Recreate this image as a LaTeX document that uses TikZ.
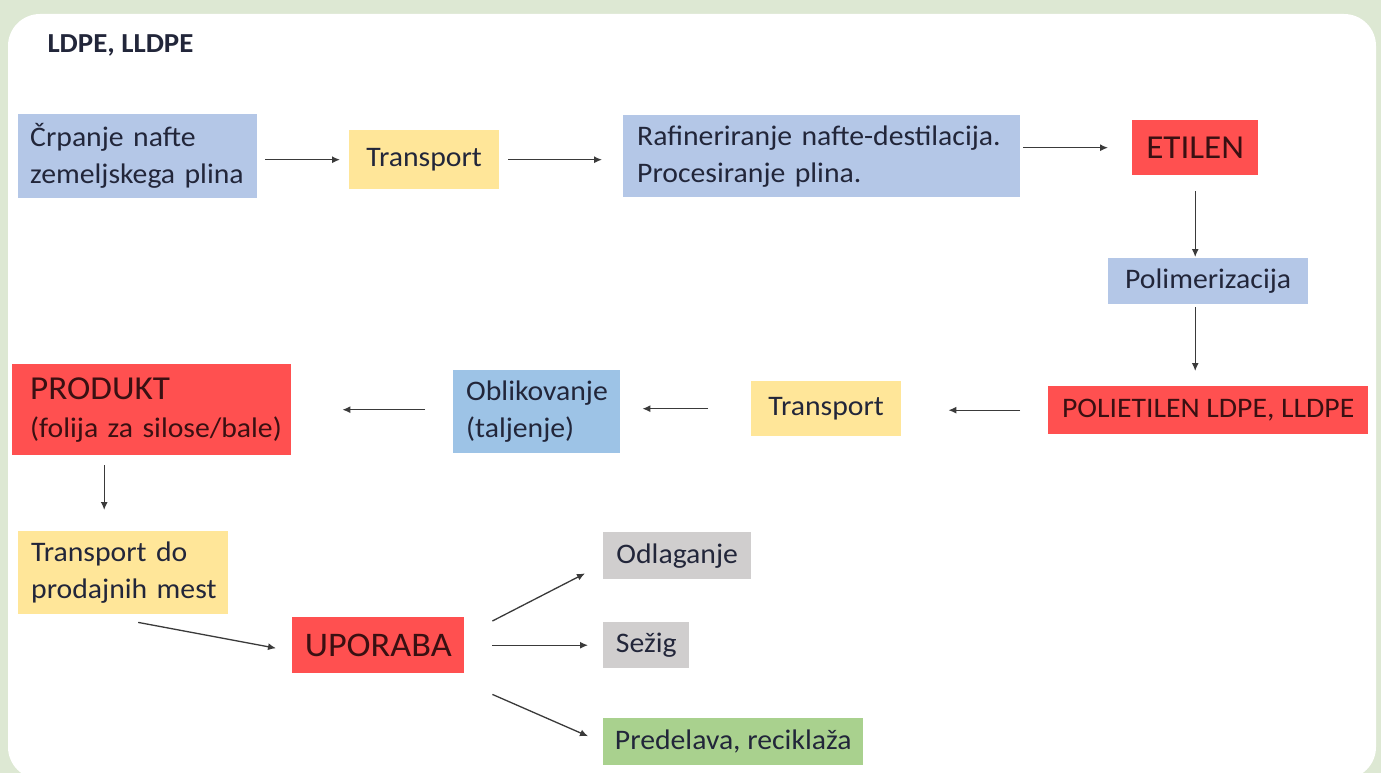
\documentclass[tikz,border=0pt]{standalone}
\usepackage{fontspec}
\setmainfont{Carlito}[FakeStretch=1.05]
\usetikzlibrary{arrows.meta}
\definecolor{bggreen}{HTML}{DDE8D3}
\definecolor{bxblue}{HTML}{B4C7E7}
\definecolor{bxblue2}{HTML}{9DC3E6}
\definecolor{bxyellow}{HTML}{FFE699}
\definecolor{bxred}{HTML}{FF5050}
\definecolor{bxgray}{HTML}{D0CECE}
\definecolor{bxgreen}{HTML}{A9D18E}
\definecolor{txdark}{HTML}{22263A}
\definecolor{txred}{HTML}{3A1012}
\definecolor{arrcol}{HTML}{3A3A3A}
\newcommand{\nsz}{\fontsize{28.3}{37}\selectfont}
\newcommand{\bsz}{\fontsize{33.5}{40}\selectfont}
\tikzset{
  box/.style={anchor=north west, inner ysep=0pt, inner xsep=0pt, text=txdark, font=\nsz},
  lbox/.style={box, align=left},
  cbox/.style={box, align=center},
  redbox/.style={fill=bxred, text=txred},
  arr/.style={draw=arrcol, line width=1.3pt, -{Latex[length=8pt,width=7pt]}}
}
\begin{document}
\begin{tikzpicture}[x=1pt,y=1pt]
\useasboundingbox (0,0) rectangle (1381,-773);
\fill[bggreen] (0,0) rectangle (1381,-773);
\fill[white, rounded corners=32pt] (8,-14) rectangle (1376,-779);

\node[anchor=west, font=\fontsize{27.5}{30}\selectfont\bfseries, text=txdark] (title) at (44,-45) {LDPE, LLDPE};

\node[lbox, fill=bxblue, minimum height=84pt, inner xsep=12pt, text width=215pt] (crp) at (18,-114) {\mbox{Črpanje nafte}\\\mbox{zemeljskega plina}};
\node[cbox, fill=bxyellow, minimum width=150pt, minimum height=59pt] (tr1) at (349,-130) {Transport};
\node[lbox, fill=bxblue, minimum height=82pt, inner xsep=14pt, text width=369pt] (raf) at (623,-115) {\mbox{Rafineriranje nafte-destilacija.}\\\mbox{Procesiranje plina.}};
\node[cbox, redbox, font=\bsz, minimum width=126pt, minimum height=55pt] (eti) at (1132,-120) {ETILEN};
\node[cbox, fill=bxblue, minimum width=200pt, minimum height=46pt] (poly) at (1108,-258) {Polimerizacija};
\node[cbox, redbox, minimum width=320pt, minimum height=48pt] (poli) at (1048,-386) {POLIETILEN LDPE, LLDPE};
\node[cbox, fill=bxyellow, minimum width=150pt, minimum height=55pt] (tr2) at (751,-381) {Transport};
\node[lbox, fill=bxblue2, minimum height=83pt, inner xsep=13pt, text width=141pt] (obl) at (453,-370) {\mbox{Oblikovanje}\\\mbox{(taljenje)}};
\node[lbox, redbox, minimum height=91pt, inner xsep=18pt, text width=243pt] (prod) at (12,-364) {\mbox{\bsz PRODUKT}\\[1pt]\mbox{\nsz (folija za silose/bale)}};
\node[lbox, fill=bxyellow, minimum height=83pt, inner xsep=13pt, text width=184pt] (trdo) at (18,-531) {\mbox{Transport do}\\\mbox{prodajnih mest}};
\node[cbox, redbox, font=\fontsize{34.5}{40}\selectfont, minimum width=172pt, minimum height=56pt] (upo) at (292,-617) {UPORABA};
\node[cbox, fill=bxgray, minimum width=148pt, minimum height=47pt] (odl) at (603,-532) {Odlaganje};
\node[cbox, fill=bxgray, minimum width=86pt, minimum height=46pt] (sez) at (603,-622) {Sežig};
\node[cbox, fill=bxgreen, minimum width=260pt, minimum height=47pt] (pre) at (603,-718) {Predelava, reciklaža};

\draw[arr] ([xshift=8pt]crp.east |- tr1.west) -- ([xshift=-9pt]tr1.west);
\draw[arr] ([xshift=9pt]tr1.east) -- ([xshift=-21pt]raf.west |- tr1.east);
\draw[arr] ([xshift=3pt]raf.east |- eti.west) -- ([xshift=-24pt]eti.west);
\draw[arr] ([yshift=-16pt]eti.south) -- ([yshift=1pt]eti.south |- poly.north);
\draw[arr] ([yshift=-3pt]eti.south |- poly.south) -- ([yshift=15pt]eti.south |- poli.north);
\draw[arr] ([xshift=-28pt]poli.west) -- ([xshift=47pt]tr2.east |- poli.west);
\draw[arr] ([xshift=-43pt]tr2.west) -- ([xshift=22pt]obl.east |- tr2.west);
\draw[arr] ([xshift=-28pt]obl.west |- prod.east) -- ([xshift=51pt]prod.east);
\draw[arr] ([shift={(-47.5pt,-10pt)}]prod.south) -- ([shift={(-47.5pt,21pt)}]prod.south |- trdo.north);
\draw[arr] ([shift={(15pt,-8pt)}]trdo.south) -- ([shift={(-16pt,-3pt)}]upo.west);
\draw[arr] ([shift={(28pt,-4pt)}]upo.north east) -- ([shift={(-18pt,6pt)}]odl.south west);
\draw[arr] ([xshift=28pt]upo.east) -- ([xshift=-15pt]sez.west);
\draw[arr] ([shift={(28pt,-21pt)}]upo.south east) -- ([shift={(-15pt,5.5pt)}]pre.west);
\end{tikzpicture}
\end{document}
